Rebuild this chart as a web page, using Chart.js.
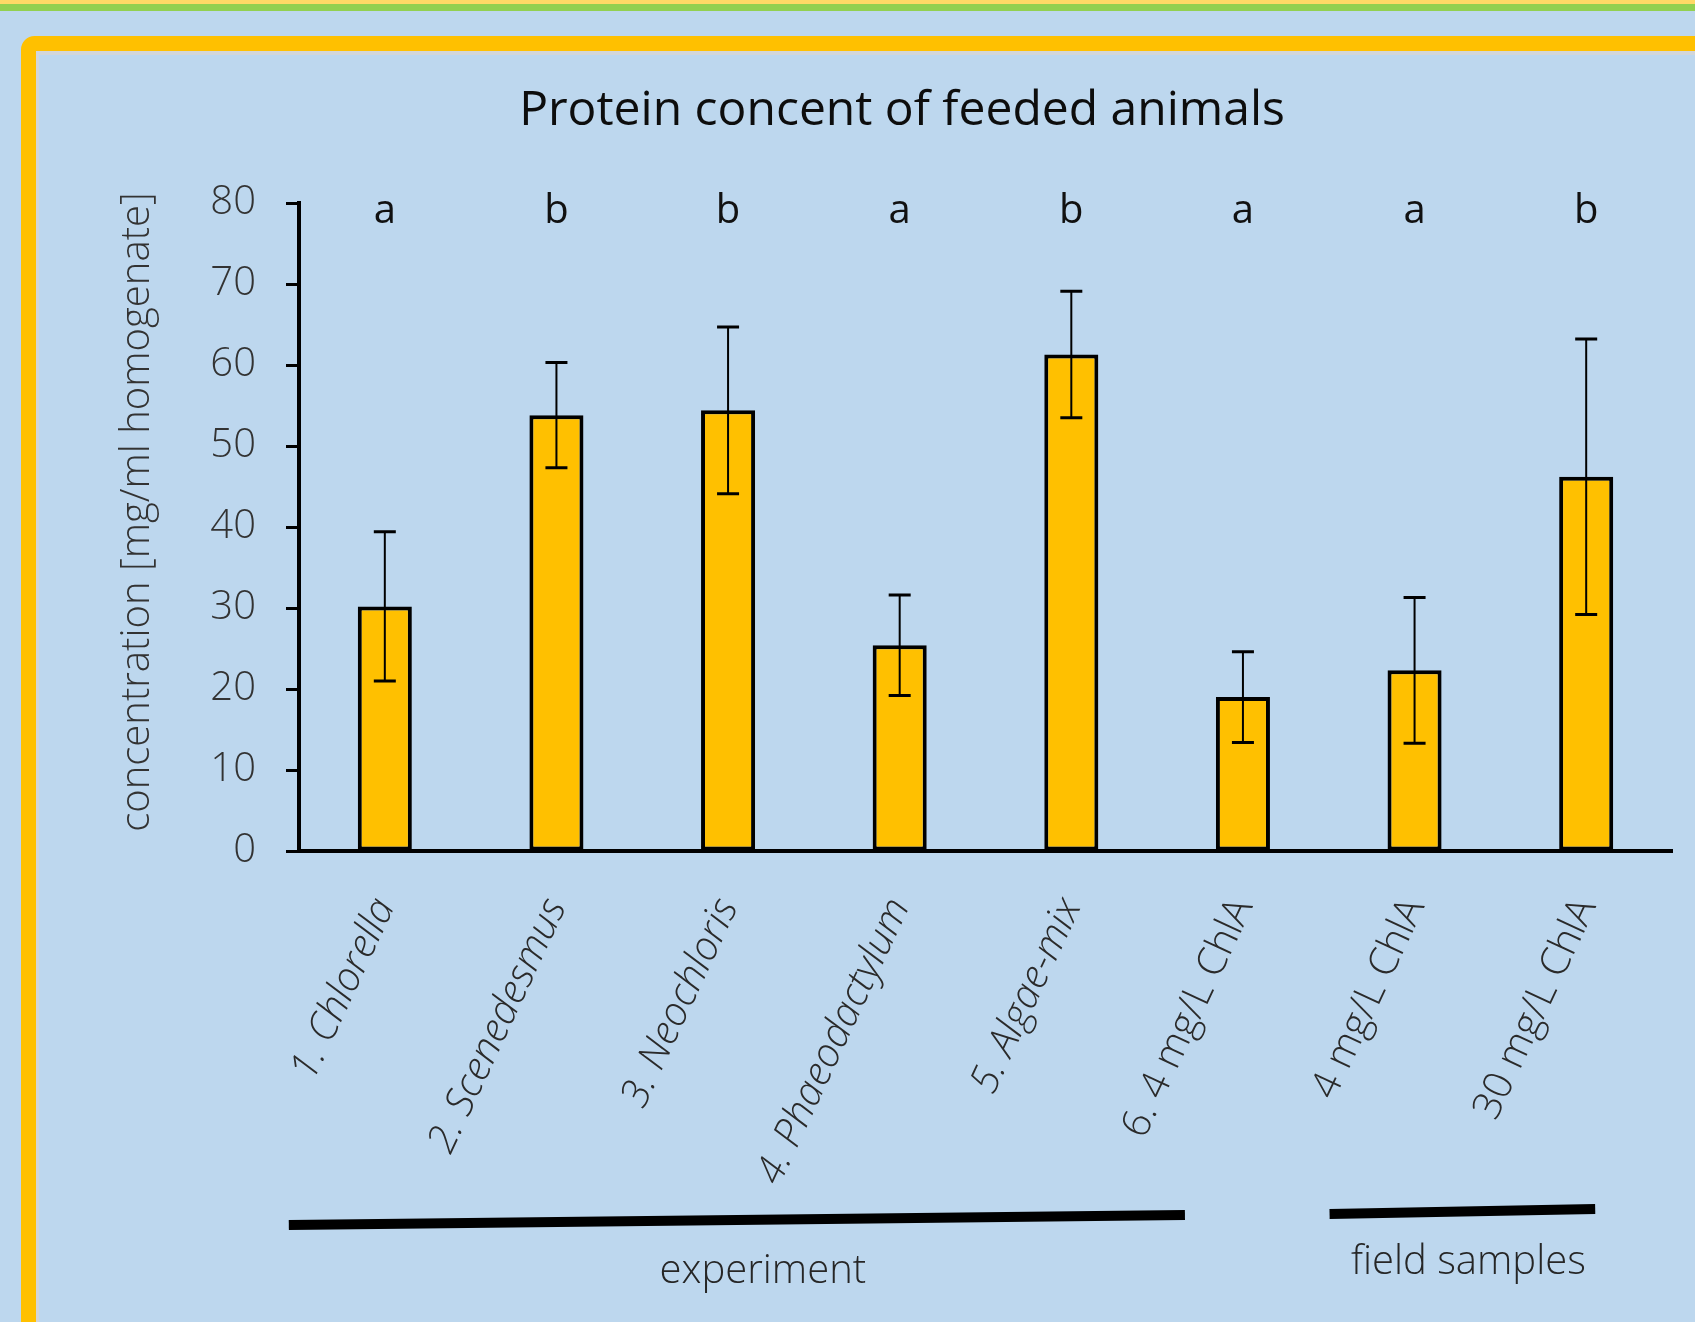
<!DOCTYPE html>
<html><head><meta charset="utf-8">
<script src="https://cdn.jsdelivr.net/npm/chart.js@4.4.1/dist/chart.umd.min.js"></script>
<style>html,body{margin:0;padding:0;background:#BDD7EE;overflow:hidden}canvas{display:block}</style>
</head><body>
<canvas id="c" width="1695" height="1322"></canvas>
<script>
// ---- data ----
const categories = ['1. Chlorella','2. Scenedesmus','3. Neochloris','4. Phaeodactylum','5. Algae-mix','6. 4 mg/L ChlA','4 mg/L ChlA','30 mg/L ChlA'];
const italicLabels = [true,true,true,true,true,false,false,false];
const proteinMeans = [30.2,53.8,54.4,25.4,61.3,19.0,22.3,46.2];
const proteinErrors = [9.2,6.5,10.3,6.2,7.8,5.6,9.0,17.0];
const significanceLetters = ['a','b','b','a','b','a','a','b'];
const yTicks = [0,10,20,30,40,50,60,70,80];
const chartTitle = 'Protein concent of feeded animals';
const yAxisTitle = 'concentration [mg/ml homogenate]';
const groupLabels = ['experiment','field samples'];
const groupFirstIndex = [0,6];
const groupLastIndex = [5,7];

// ---- drawing helpers (styles/positions) ----
const GROUP_STYLE = [
  {dxL:-96, dxR:-58, yL:1225, yR:1215, textDx:26, textY:1283},
  {dxL:-85, dxR:9, yL:1214, yR:1209, textDx:6, textY:1274}
];

const decorPlugin = {
  id:'decor',
  beforeDraw(chart){
    const ctx = chart.ctx;
    ctx.save();
    ctx.fillStyle = '#BDD7EE';
    ctx.fillRect(0,0,chart.width,chart.height);
    ctx.fillStyle = '#FFD966'; ctx.fillRect(0,0,chart.width,4);
    ctx.fillStyle = '#92D050'; ctx.fillRect(0,4,chart.width,7);
    ctx.fillStyle = '#D2D6DA';
    ctx.fillRect(35,51,chart.width,4);
    ctx.fillRect(35,51,4,chart.height);
    ctx.strokeStyle = '#FFC000';
    ctx.lineWidth = 15;
    ctx.beginPath();
    if (ctx.roundRect) ctx.roundRect(28.5,43.5,chart.width+40,chart.height+40,6);
    else ctx.rect(28.5,43.5,chart.width+40,chart.height+40);
    ctx.stroke();
    ctx.restore();
  },
  afterDatasetsDraw(chart){
    const ctx = chart.ctx;
    const meta = chart.getDatasetMeta(0);
    const y = chart.scales.y;
    ctx.save();
    ctx.strokeStyle = '#000';
    meta.data.forEach((bar,i)=>{
      const x = bar.x;
      const yt = y.getPixelForValue(proteinMeans[i]+proteinErrors[i]);
      const yb = y.getPixelForValue(proteinMeans[i]-proteinErrors[i]);
      ctx.lineWidth = 2;
      ctx.beginPath(); ctx.moveTo(x,yt); ctx.lineTo(x,yb); ctx.stroke();
      ctx.lineWidth = 3;
      ctx.beginPath(); ctx.moveTo(x-11,yt); ctx.lineTo(x+11,yt); ctx.moveTo(x-11,yb); ctx.lineTo(x+11,yb); ctx.stroke();
    });
    ctx.fillStyle = '#111';
    ctx.font = '400 40px "Open Sans"';
    ctx.textAlign = 'center';
    ctx.textBaseline = 'alphabetic';
    meta.data.forEach((bar,i)=>{
      ctx.fillText(significanceLetters[i], bar.x, y.getPixelForValue(yTicks[yTicks.length-1]) + 20);
    });
    ctx.restore();
  },
  afterDraw(chart){
    const ctx = chart.ctx;
    const xs = chart.scales.x;
    ctx.save();
    ctx.fillStyle = '#0d0d0d';
    ctx.font = '400 48px "Open Sans"';
    ctx.textAlign = 'center';
    ctx.textBaseline = 'alphabetic';
    ctx.fillText(chartTitle, 902, 125);
    ctx.save();
    ctx.translate(138,512);
    ctx.rotate(-Math.PI/2);
    ctx.fillStyle = '#333';
    ctx.font = '300 40px "Open Sans"';
    ctx.textBaseline = 'middle';
    ctx.fillText(yAxisTitle,0,0);
    ctx.restore();
    groupLabels.forEach((lab,g)=>{
      const st = GROUP_STYLE[g];
      const x1 = xs.getPixelForValue(groupFirstIndex[g]) + st.dxL;
      const x2 = xs.getPixelForValue(groupLastIndex[g]) + st.dxR;
      ctx.strokeStyle = '#000';
      ctx.lineWidth = 10;
      ctx.lineCap = 'butt';
      ctx.beginPath(); ctx.moveTo(x1,st.yL); ctx.lineTo(x2,st.yR); ctx.stroke();
      ctx.fillStyle = '#262626';
      ctx.font = '300 40px "Open Sans"';
      ctx.textAlign = 'center';
      ctx.textBaseline = 'alphabetic';
      ctx.fillText(lab,(x1+x2)/2 + st.textDx, st.textY);
    });
    ctx.restore();
  }
};

function build(){
  new Chart(document.getElementById('c'),{
    type:'bar',
    data:{labels:categories,datasets:[{
      data:proteinMeans,
      backgroundColor:'#FFC000',
      borderColor:'#000',
      borderWidth:4,
      borderSkipped:false,
      categoryPercentage:1,
      barPercentage:0.315
    }]},
    options:{
      responsive:false,
      animation:false,
      devicePixelRatio:1,
      layout:{padding:{top:203,left:0,right:23,bottom:71}},
      plugins:{legend:{display:false},tooltip:{enabled:false},title:{display:false}},
      scales:{
        x:{
          afterFit(s){ s.height = 400; },
          grid:{display:false,drawTicks:false},
          border:{display:true,color:'#000',width:4},
          ticks:{
            autoSkip:false,minRotation:65,maxRotation:65,padding:40,color:'#2a2a2a',
            font:(c)=>({family:'"Open Sans"',size:40,weight:'300',style:italicLabels[c.index]?'italic':'normal'})
          }
        },
        y:{
          min:0,max:80,
          afterFit(s){ s.width = 299; },
          afterBuildTicks(s){ s.ticks = yTicks.map(v=>({value:v})); },
          grid:{display:true,drawOnChartArea:false,drawTicks:true,tickLength:13,tickWidth:3,tickColor:'#000'},
          border:{display:true,color:'#000',width:4},
          ticks:{padding:30,color:'#333',font:{family:'"Open Sans"',size:40,weight:'300'}}
        }
      }
    },
    plugins:[decorPlugin]
  });
}
const fl = [document.fonts.load('300 40px "Open Sans"'),document.fonts.load('italic 300 40px "Open Sans"'),document.fonts.load('400 48px "Open Sans"')];
Promise.race([Promise.all(fl),new Promise(r=>setTimeout(r,1500))]).then(build,build);
</script>
</body></html>
